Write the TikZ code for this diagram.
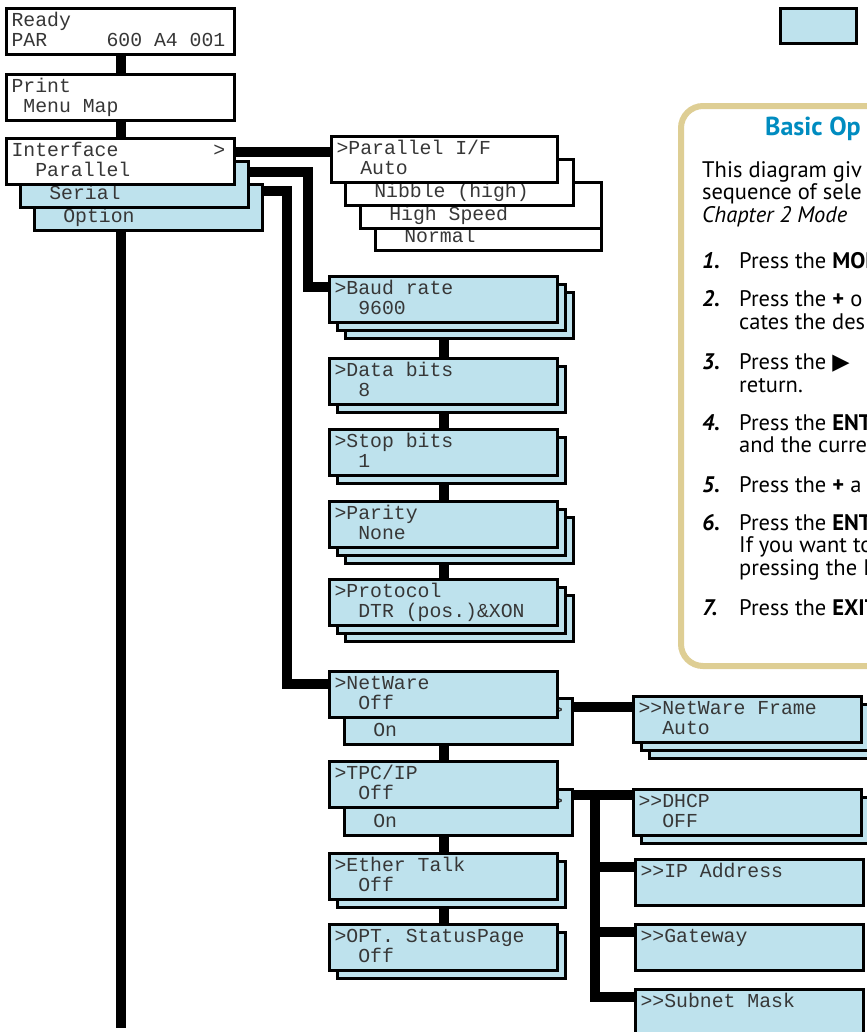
\documentclass[tikz,border=0pt]{standalone}
\usepackage{fontspec}
\setmainfont{PT Sans}
\newfontfamily\lcdfont{Liberation Mono}
\newfontfamily\symfont{DejaVu Sans}
\usetikzlibrary{positioning,backgrounds,shadows}
\definecolor{lcdblue}{RGB}{190,226,237}
\definecolor{lcdink}{RGB}{55,55,55}
\definecolor{paneltan}{RGB}{222,206,148}
\definecolor{titleblue}{RGB}{0,140,192}
% two lines of the display, first line at the top
\newcommand{\lcd}[3][218bp]{\parbox[t][46bp][t]{#1}{\lcdfont\fontsize{19.8bp}{20bp}\selectfont\color{lcdink}\rule{0pt}{18bp}#2\\\null#3}}
\tikzset{
  lcdwhite/.style={draw, line width=3bp, fill=white, anchor=north west, inner xsep=5bp, inner ysep=0pt},
  lcdbox/.style={lcdwhite, fill=lcdblue},
  oneshadow/.style={copy shadow={shadow xshift=8bp, shadow yshift=-8bp}},
  twoshadow/.style={double copy shadow={shadow xshift=8bp, shadow yshift=-8bp}},
  keybox/.style={draw, line width=2.5bp, fill=lcdblue, anchor=north west, minimum width=76bp, minimum height=35bp},
  link/.style={line width=10bp, line join=miter},
  panel/.style={draw=paneltan, line width=6bp, rounded corners=22bp, fill=white, anchor=north west, minimum width=260bp, minimum height=560bp},
  paneltext/.style={anchor=base west, inner sep=0pt, font=\fontsize{22.5bp}{24bp}\selectfont},
  titletext/.style={anchor=base west, inner sep=0pt, text=titleblue, font=\fontsize{26bp}{28bp}\selectfont\bfseries}
}

\begin{document}
\begin{tikzpicture}[x=1bp, y=-1bp]
  \useasboundingbox (0,0) rectangle (867,1032);

  % main column
  \node[lcdwhite] (ready) at (5,7) {\lcd{Ready}{PAR~~~~~600~A4~001}};
  \node[lcdwhite] (print) at (5,73) {\lcd{Print}{~Menu~Map}};
  \node[lcdbox] (option) at (33,183) {\lcd{}{~~Option}};
  \node[lcdbox] (serial) at (19,160) {\lcd{}{~~Serial}};
  \node[lcdwhite] (iface) at (5,137) {\lcd{Interface~~~~~~~~>}{~~Parallel}};

  % parallel
  \node[lcdwhite] (normal) at (374,203) {\lcd[216bp]{}{~~Normal}};
  \node[lcdwhite] (highspeed) at (359,181) {\lcd[231bp]{}{~~High~Speed}};
  \node[lcdwhite] (nibble) at (344,158) {\lcd{}{~~Nibble~(high)}};
  \node[lcdwhite] (par) at (330,135) {\lcd[216bp]{>Parallel~I/F}{~~Auto}};

  % serial
  \node[lcdbox, twoshadow] (baud) at (328,275) {\lcd{>Baud~rate}{~~9600}};
  \node[lcdbox, oneshadow] (databits) at (328,357) {\lcd{>Data~bits}{~~8}};
  \node[lcdbox, oneshadow] (stopbits) at (328,428) {\lcd{>Stop~bits}{~~1}};
  \node[lcdbox, twoshadow] (parity) at (328,500) {\lcd{>Parity}{~~None}};
  \node[lcdbox, twoshadow] (protocol) at (328,578) {\lcd{>Protocol}{~~DTR~(pos.)\&XON}};

  % option
  \node[lcdbox] (netwareon) at (343,697) {\lcd{~~~~~~~~~~~~~~~~~>}{~~On}};
  \node[lcdbox] (netware) at (328,670) {\lcd{>NetWare}{~~Off}};
  \node[lcdbox] (tcpon) at (343,788) {\lcd{~~~~~~~~~~~~~~~~~>}{~~On}};
  \node[lcdbox] (tcp) at (328,760) {\lcd{>TPC/IP}{~~Off}};
  \node[lcdbox, oneshadow] (ethertalk) at (328,852) {\lcd{>Ether~Talk}{~~Off}};
  \node[lcdbox, oneshadow] (optstatus) at (328,923) {\lcd{>OPT.~StatusPage}{~~Off}};

  \node[lcdbox, twoshadow] (frame) at (632,695) {\lcd{>>NetWare~Frame}{~~Auto}};
  \node[lcdbox, oneshadow] (dhcp) at (632,788) {\lcd{>>DHCP}{~~OFF}};
  \node[lcdbox] (ipaddr) at (634,858) {\lcd{>>IP~Address}{}};
  \node[lcdbox] (gateway) at (634,923) {\lcd{>>Gateway}{}};
  \node[lcdbox] (subnet) at (634,988) {\lcd{>>Subnet~Mask}{}};

  \begin{scope}[on background layer]
    \draw[link] (ready) -- (print);
    \draw[link] (print) -- (iface);
    \draw[link] (iface.south) -- (iface.south |- 0,1028);
    \draw[link] (iface.east |- 0,152) -- (par.west |- 0,152);
    \draw[link] (serial.east |- 0,172) -- (308,172) |- (baud.west |- 0,287);
    \draw[link] (option.east |- 0,191) -- (287,191) |- (netware.west |- 0,684);
    \draw[link] (baud) -- (databits);
    \draw[link] (databits) -- (stopbits);
    \draw[link] (stopbits) -- (parity);
    \draw[link] (parity) -- (protocol);
    \draw[link] (netware) -- (tcp);
    \draw[link] (tcp) -- (ethertalk);
    \draw[link] (ethertalk) -- (optstatus);
    \draw[link] (netwareon.east |- 0,707) -- (frame.west |- 0,707);
    \draw[link] (tcpon.east |- 0,795) -- (dhcp.west |- 0,795);
    \coordinate (fork) at (595,795);
    \draw[link] (fork) |- (subnet.west |- 0,997);
    \draw[link] (fork |- 0,867) -- (ipaddr.west |- 0,867);
    \draw[link] (fork |- 0,932) -- (gateway.west |- 0,932);
  \end{scope}

  % key and note
  \node[keybox] (key) at (779,7) {};
  \node[panel] (panel) at (678,103) {};
  \node[titletext] (title) at (765,135) {Basic Op};
  \node[paneltext] (intro1) at (702,177) {This diagram giv};
  \node[paneltext] (intro2) at (702,199) {sequence of sele};
  \node[paneltext] (intro3) at (702,222) {\itshape Chapter 2 Mode};
  \node[paneltext] (n1) at (702,268) {\bfseries\itshape 1.};
  \node[paneltext] (s1) at (739,268) {Press the \textbf{MOD}};
  \node[paneltext] (n2) at (702,306) {\bfseries\itshape 2.};
  \node[paneltext] (s2) at (739,306) {Press the \textbf{+} o};
  \node[paneltext] (s2b) at (739,329) {cates the des};
  \node[paneltext] (n3) at (702,369) {\bfseries\itshape 3.};
  \node[paneltext] (s3) at (739,369) {Press the {\symfont ▶}};
  \node[paneltext] (s3b) at (739,392) {return.};
  \node[paneltext] (n4) at (702,430) {\bfseries\itshape 4.};
  \node[paneltext] (s4) at (739,430) {Press the \textbf{ENT}};
  \node[paneltext] (s4b) at (739,452) {and the curre};
  \node[paneltext] (n5) at (702,492) {\bfseries\itshape 5.};
  \node[paneltext] (s5) at (739,492) {Press the \textbf{+} a};
  \node[paneltext] (n6) at (702,530) {\bfseries\itshape 6.};
  \node[paneltext] (s6) at (739,530) {Press the \textbf{ENT}};
  \node[paneltext] (s6b) at (739,552) {If you want to};
  \node[paneltext] (s6c) at (739,575) {pressing the I};
  \node[paneltext] (n7) at (702,615) {\bfseries\itshape 7.};
  \node[paneltext] (s7) at (739,615) {Press the \textbf{EXIT}};
\end{tikzpicture}
\end{document}
